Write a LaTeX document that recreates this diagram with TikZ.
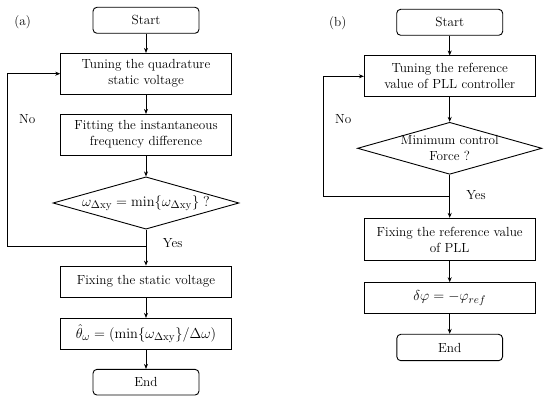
\documentclass[tikz,border=0pt]{standalone}
\usetikzlibrary{shapes.geometric,arrows.meta}
\begin{document}
\begin{tikzpicture}[x=1pt,y=-1pt,
  every node/.style={font=\fontsize{13.2}{16}\selectfont},
  mathtxt/.style={font=\fontsize{15}{18}\selectfont},
  procbox/.style={draw, line width=0.9pt, minimum width=170.6pt, inner sep=0pt, align=center},
  termbox/.style={draw, line width=0.9pt, rounded corners=4pt, minimum width=106pt, minimum height=26pt, inner sep=0pt},
  decbox/.style={draw, line width=0.9pt, diamond, inner sep=0pt},
  flow/.style={line width=0.9pt, -{Stealth[length=5pt,width=4pt]}}]
\useasboundingbox (0,0) rectangle (550,401);
% ---------- (a) ----------
\node (la) at (22.7,22) {(a)};
\node[termbox] (sa) at (146,20.3) {Start};
\node[procbox, minimum height=40.7pt] (ta) at (146,73.7) {Tuning the quadrature\\static voltage};
\node[procbox, minimum height=40.7pt] (fa) at (146,134.7) {Fitting the instantaneous\\frequency difference};
\node[decbox, minimum width=186pt, minimum height=52.3pt] (da) at (146,203) {};
\node[mathtxt] at (da) {$\omega_{\Delta\mathrm{xy}} = \min\{\omega_{\Delta\mathrm{xy}}\}\;?$};
\node[procbox, minimum height=31.3pt] (xa) at (146,281.7) {Fixing the static voltage};
\node[procbox, mathtxt, minimum height=30.7pt] (ha) at (146,333.7) {$\hat{\theta}_{\omega} = \bigl(\min\{\omega_{\Delta\mathrm{xy}}\}/\Delta\omega\bigr)$};
\node[termbox, minimum height=25.7pt] (ea) at (146,382.2) {End};
\node (noa) at (27.3,119) {No};
\node (yesa) at (172.7,243) {Yes};
\coordinate (ja) at (146,246);
\coordinate (ka) at (7.3,246);
\draw[flow] (sa) -- (ta);
\draw[flow] (ta) -- (fa);
\draw[flow] (fa) -- (da.north);
\draw[flow] (da.south) -- (xa);
\draw[flow] (xa) -- (ha);
\draw[flow] (ha) -- (ea);
\draw[flow] (ja) -- (ka) |- (ta.west);
% ---------- (b) ----------
\node (lb) at (337.7,23.3) {(b)};
\node[termbox] (sb) at (449.7,22.3) {Start};
\node[procbox, minimum height=40.7pt] (tb) at (449.7,76.3) {Tuning the reference\\value of PLL controller};
\node[decbox, minimum width=184.4pt, minimum height=52pt] (db) at (449.7,148.3) {};
\node[align=center] at (db) {Minimum control\\Force ?};
\node[procbox, minimum height=42.4pt] (xb) at (449.7,239.5) {Fixing the reference value\\of PLL};
\node[procbox, mathtxt, minimum height=30.6pt] (hb) at (449.7,298) {$\delta\varphi = -\varphi_{ref}$};
\node[termbox, minimum width=105.7pt, minimum height=26.4pt] (eb) at (449.7,347.5) {End};
\node (nob) at (343.3,119) {No};
\node (yesb) at (476,195) {Yes};
\coordinate (jb) at (449.7,196);
\coordinate (kb) at (323.7,196);
\draw[flow] (sb) -- (tb);
\draw[flow] (tb) -- (db.north);
\draw[flow] (db.south) -- (xb);
\draw[flow] (xb) -- (hb);
\draw[flow] (hb) -- (eb);
\draw[flow] (jb) -- (kb) |- (tb.west);
\end{tikzpicture}
\end{document}
